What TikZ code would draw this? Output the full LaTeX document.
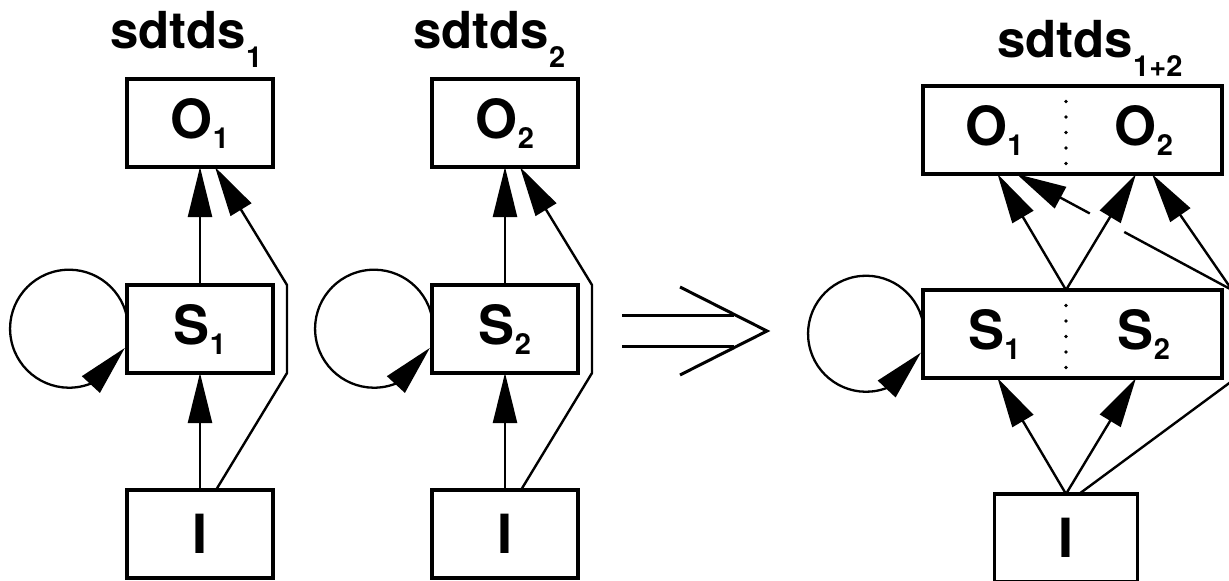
\documentclass[tikz,border=0pt]{standalone}
\usepackage{fontspec}
\setmainfont{TeX Gyre Heros}
\usetikzlibrary{positioning, arrows.meta, bending, calc}

% lowered indices for box labels and headings
\newcommand{\boxsub}[1]{\raisebox{-10pt}{\fontsize{29}{29}\selectfont #1}}
\newcommand{\headsub}[1]{\raisebox{-19pt}{\fontsize{29}{29}\selectfont #1}}

\begin{document}
\begin{tikzpicture}[x=1pt, y=1pt,
  box/.style={draw, line width=3.2pt, outer sep=0pt, minimum width=146pt,
              minimum height=88pt, inner sep=0pt,
              font=\fontsize{54}{60}\selectfont\bfseries},
  half/.style={minimum height=88pt, inner sep=0pt, outer sep=0pt,
               font=\fontsize{54}{60}\selectfont\bfseries},
  frame/.style={line width=3.2pt},
  divider/.style={line width=3.6pt, dash pattern=on 0pt off 15.5pt, line cap=round},
  head/.style={anchor=base west, inner sep=0pt,
               font=\fontsize{51}{60}\selectfont\bfseries},
  arr/.style={-{Triangle[length=50pt, width=24pt]}, line width=2.4pt},
  loopy/.style={-{Triangle[length=50pt, width=24pt, flex]}, line width=2.3pt},
  wire/.style={line width=2.4pt},
  implies/.style={line width=3pt},
]
\useasboundingbox (0,0) rectangle (1229,-581);
\clip (0,0) rectangle (1229,-581);

% ---- first system ----
\node[box] (o1) at (200,-123) {O\boxsub{1}};
\node[box, below=118pt of o1] (s1) {S\boxsub{1}};
\node[box, below=117pt of s1] (i1) {I};
\node[head] (h1) at ([xshift=-90pt, yshift=31pt]o1.north) {sdtds\headsub{1}};

\draw[arr] (s1) -- (o1);
\draw[arr] (i1) -- (s1);
\draw[arr] ([xshift=16pt]i1.north) -- ([xshift=14pt]s1.south east)
  -- ([xshift=14pt]s1.north east) -- ([xshift=15pt]o1.south);
\draw[loopy] (s1.171) arc[start angle=11, end angle=341, radius=59pt];

% ---- second system ----
\node[box, right=159pt of o1] (o2) {O\boxsub{2}};
\node[box, below=118pt of o2] (s2) {S\boxsub{2}};
\node[box, below=117pt of s2] (i2) {I};
\node[head] (h2) at ([xshift=-92pt, yshift=31pt]o2.north) {sdtds\headsub{2}};

\draw[arr] (s2) -- (o2);
\draw[arr] (i2) -- (s2);
\draw[arr] ([xshift=16pt]i2.north) -- ([xshift=14pt]s2.south east)
  -- ([xshift=14pt]s2.north east) -- ([xshift=15pt]o2.south);
\draw[loopy] (s2.171) arc[start angle=11, end angle=341, radius=59pt];

% ---- composition sign ----
\draw[implies] (622,-315) -- (734,-315);
\draw[implies] (622,-346) -- (734,-346);
\draw[implies] (680,-287) -- (767,-331) -- (680,-375);

% ---- composed system ----
\node[half, minimum width=143pt] (o1r) at (994.5,-130) {O\boxsub{1}};
\node[half, minimum width=156pt, right=0pt of o1r] (o2r) {O\boxsub{2}};
\node[half, minimum width=143pt, below=116pt of o1r] (s1r) {S\boxsub{1}};
\node[half, minimum width=156pt, right=0pt of s1r] (s2r) {S\boxsub{2}};
\draw[frame] (o1r.north west) rectangle (o2r.south east);
\draw[frame] (s1r.north west) rectangle (s2r.south east);
\draw[divider] (o1r.north east) -- (o1r.south east);
\draw[divider] (s1r.north east) -- (s1r.south east);
\node[box, minimum width=143pt, below=116pt of s1r.south east] (i3) {I};
\node[head] (h3) at ([xshift=74pt, yshift=29pt]o1r.north west) {sdtds\headsub{1+2}};

\coordinate (rt) at (1232,-290);
\coordinate (rb) at (1232,-381);
\coordinate (o1in) at ([xshift=22pt]o1r.south);

\draw[arr] (i3.north) -- ([xshift=3pt]s1r.south);
\draw[arr] (i3.north) -- ([xshift=-8pt]s2r.south);
\draw[wire] ([xshift=13pt]i3.north) -- (rb) -- (rt);
\draw[arr] (rt) -- ([xshift=8pt]o2r.south);
\draw[wire] (rt) -- ($(rt)!0.50!(o1in)$);
\draw[arr] ($(rt)!0.66!(o1in)$) -- (o1in);
\draw[arr] (s1r.north east) -- ([xshift=3pt]o1r.south);
\draw[arr] (s1r.north east) -- ([xshift=-8pt]o2r.south);
\draw[loopy] (s1r.171) arc[start angle=11, end angle=341, radius=58pt];

\end{tikzpicture}
\end{document}
